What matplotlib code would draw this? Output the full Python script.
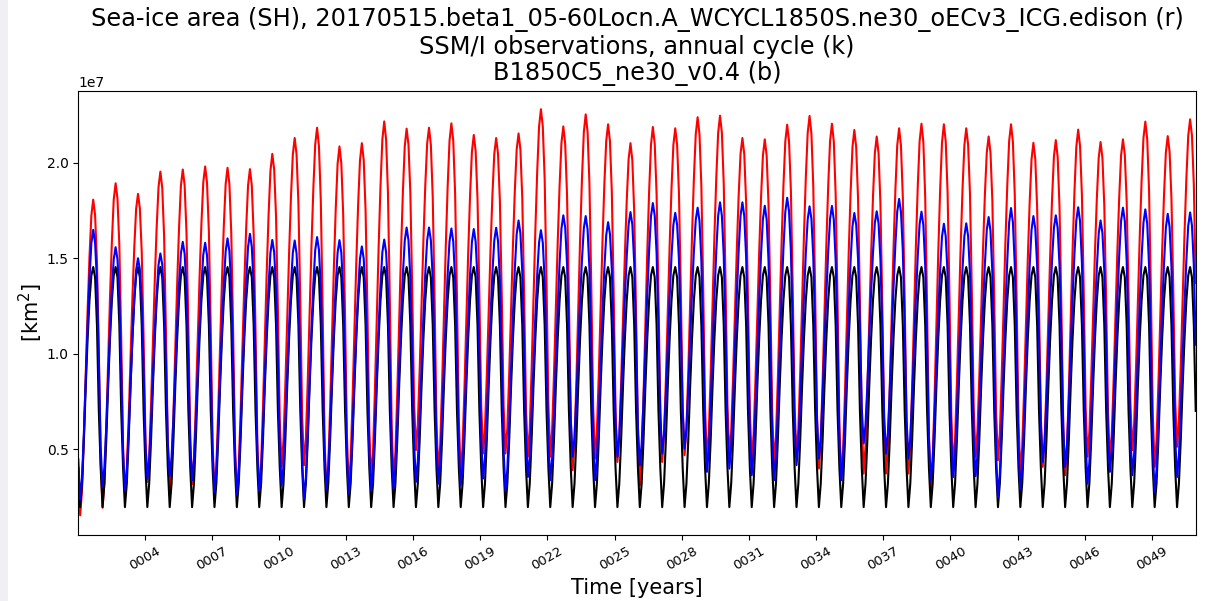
import numpy as np
import matplotlib
matplotlib.use("Agg")
import matplotlib.pyplot as plt
from matplotlib.patches import Rectangle

# ---------------- data (units: 1e7 km^2) ----------------
years = list(range(1, 51))

# annual maxima (September)
red_peak = [1.807, 1.893, 1.837, 1.954, 1.965, 1.981, 1.974, 1.967, 2.047, 2.130,
            2.184, 2.086, 2.103, 2.217, 2.179, 2.184, 2.207, 2.146, 2.130, 2.154,
            2.281, 2.191, 2.254, 2.202, 2.103, 2.188, 2.181, 2.239, 2.247, 2.130,
            2.123, 2.200, 2.246, 2.205, 2.172, 2.138, 2.181, 2.205, 2.202, 2.181,
            2.138, 2.202, 2.105, 2.119, 2.174, 2.109, 2.123, 2.216, 2.140, 2.228]
blue_peak = [1.649, 1.558, 1.500, 1.525, 1.586, 1.581, 1.604, 1.628, 1.596, 1.593,
             1.611, 1.595, 1.562, 1.598, 1.661, 1.661, 1.656, 1.653, 1.660, 1.698,
             1.647, 1.725, 1.721, 1.689, 1.742, 1.789, 1.738, 1.765, 1.793, 1.793,
             1.775, 1.817, 1.772, 1.774, 1.737, 1.746, 1.811, 1.744, 1.681, 1.683,
             1.716, 1.763, 1.721, 1.725, 1.767, 1.698, 1.765, 1.756, 1.733, 1.740]

# annual minima (February)
red_trough = [0.153, 0.193, 0.270, 0.328, 0.258, 0.316, 0.275, 0.267, 0.275, 0.407,
              0.416, 0.267, 0.302, 0.337, 0.337, 0.495, 0.372, 0.372, 0.477, 0.477,
              0.460, 0.460, 0.390, 0.450, 0.433, 0.310, 0.433, 0.468, 0.442, 0.460,
              0.442, 0.425, 0.460, 0.398, 0.346, 0.372, 0.372, 0.372, 0.284, 0.407,
              0.460, 0.442, 0.372, 0.407, 0.363, 0.460, 0.442, 0.495, 0.407, 0.512]
blue_trough = [0.235, 0.305, 0.284, 0.346, 0.358, 0.337, 0.275, 0.263, 0.281, 0.310,
               0.240, 0.288, 0.267, 0.284, 0.293, 0.328, 0.319, 0.310, 0.346, 0.281,
               0.354, 0.337, 0.460, 0.337, 0.460, 0.416, 0.477, 0.503, 0.381, 0.398,
               0.363, 0.337, 0.416, 0.450, 0.337, 0.530, 0.477, 0.450, 0.337, 0.354,
               0.358, 0.249, 0.288, 0.433, 0.407, 0.319, 0.381, 0.363, 0.275, 0.354]

# SSM/I observed annual cycle (Jan..Dec)
obs_cycle = [0.40, 0.196, 0.32, 0.55, 0.83, 1.08, 1.28, 1.41, 1.454, 1.40, 1.15, 0.70]

# model seasonal position between trough (0) and peak (1), Jan..Dec
model_shape = [0.15, 0.0, 0.08, 0.25, 0.45, 0.65, 0.82, 0.95, 1.0, 0.95, 0.80, 0.50]

yticks = [4, 7, 10, 13, 16, 19, 22, 25, 28, 31, 34, 37, 40, 43, 46, 49]

title_lines = ["Sea-ice area (SH), 20170515.beta1_05-60Locn.A_WCYCL1850S.ne30_oECv3_ICG.edison (r)",
               "SSM/I observations, annual cycle (k)",
               "B1850C5_ne30_v0.4 (b)"]


def build(peak, trough):
    vals = []
    n = len(peak)
    for i in range(n):
        for m in range(12):
            if m == 0:
                hi = peak[i - 1] if i > 0 else peak[0]
                lo = trough[i]
            elif m <= 8:
                hi, lo = peak[i], trough[i]
            else:
                hi = peak[i]
                lo = trough[i + 1] if i + 1 < n else trough[i]
            vals.append((lo + (hi - lo) * model_shape[m]) * 1e7)
    return np.array(vals)


red = build(red_peak, red_trough)
blue = build(blue_peak, blue_trough)
black = np.tile(np.array(obs_cycle) * 1e7, len(years))
t = years[0] + (np.arange(12 * len(years)) + 0.5) / 12.0

# ---------------- figure ----------------
W, H = 1207, 601
fig = plt.figure(figsize=(W / 100, H / 100), dpi=100)
fig.patches.append(Rectangle((0, 0), 8 / W, 1, transform=fig.transFigure,
                             facecolor="#f0f0f4", edgecolor="none", zorder=-1))
ax = fig.add_axes([78.3 / W, 1 - 535 / H, (1195.7 - 78.3) / W, (535 - 90.7) / H])

ax.plot(t, red, color="red", lw=1.5)
ax.plot(t, black, color="black", lw=1.5)
ax.plot(t, blue, color="blue", lw=1.5)

ax.set_xlim(t[0], t[-1])
ax.set_ylim(0.05e7, 2.378e7)
ax.set_yticks([0.5e7, 1.0e7, 1.5e7, 2.0e7])
ax.set_xticks(yticks)
ax.set_xticklabels(["%04d" % y for y in yticks], rotation=30, ha="center", fontsize=9.5)
ax.tick_params(axis="y", labelsize=10)

for line, yc in zip(title_lines, [20, 47, 73]):
    fig.text(637 / W, 1 - yc / H, line, fontsize=17.3, ha="center", va="center")

ax.set_xlabel("Time [years]", fontsize=15)
ax.set_ylabel("[km$^2$]", fontsize=15, labelpad=1)

fig.savefig("out.png", dpi=100)
